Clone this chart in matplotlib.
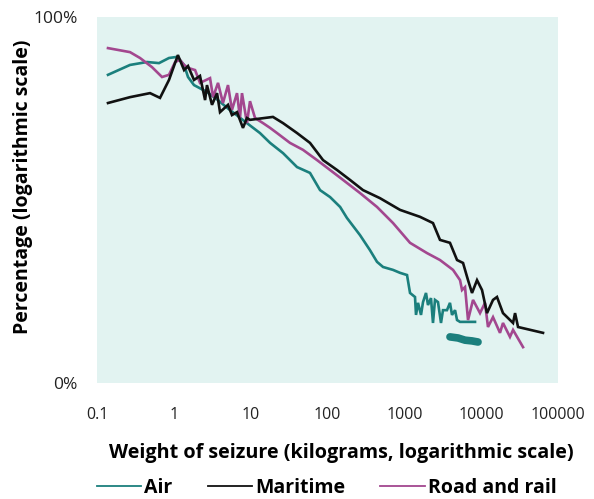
import matplotlib
matplotlib.use('Agg')
import matplotlib.pyplot as plt
from matplotlib.lines import Line2D

plt.rcParams['font.family'] = ['Open Sans', 'DejaVu Sans']

# Air
air_x = [0.139, 0.269, 0.448, 0.641, 0.865, 1.10, 1.36, 1.53, 1.83, 2.7, 3.65, 5.07, 7.26, 8.95,
         13.2, 17.9, 26.4, 40.1, 59.2, 80.0, 108, 146, 179, 265, 357, 441, 528, 713, 879, 1084,
         1186, 1377, 1419, 1507, 1648, 1750, 1914, 2032, 2223, 2360, 2506, 2742, 3000, 3184,
         3589, 3926, 4176, 4571, 4853, 5309, 8318]
air_y = [84.2, 86.9, 87.7, 87.4, 88.8, 89.1, 86.9, 83.6, 81.4, 79.5, 77.5, 75.0, 72.5, 71.0,
         68.3, 65.6, 62.8, 59.0, 57.4, 52.7, 50.8, 48.1, 45.1, 40.4, 36.3, 33.1, 31.7, 30.9, 30.1, 29.5,
         24.6, 23.5, 18.6, 21.9, 18.6, 22.1, 24.6, 21.3, 23.2, 16.4, 22.7, 22.1, 16.4, 19.9,
         19.9, 21.9, 18.6, 19.9, 17.2, 16.7, 16.7]
# dense cluster of small air seizures at the tail
air_tail_x = [3926, 5000, 6166, 7603, 9100]
air_tail_y = [12.6, 12.3, 11.7, 11.5, 11.2]

# Maritime
sea_x = [0.139, 0.269, 0.49, 0.661, 0.865, 1.13, 1.36, 1.53, 1.83, 2.19, 2.55, 2.70, 3.14, 3.65,
         3.99, 5.07, 5.71, 6.64, 7.94, 8.95, 9.80, 19.5, 26.4, 40.1, 59.2, 87.5, 133, 196, 290,
         482, 879, 1600, 2360, 2911, 3926, 4853, 5808, 6745, 7603, 8831, 10260, 11910, 14260,
         16070, 19230, 26000, 27610, 30200, 63830]
sea_y = [76.5, 78.1, 79.2, 77.9, 82.8, 89.6, 85.5, 86.6, 82.8, 83.9, 77.3, 81.4, 76.0, 79.2,
         74.0, 76.0, 73.2, 74.0, 69.7, 72.4, 71.9, 72.7, 71.0, 68.3, 65.6, 60.9, 58.2, 55.5, 52.7,
         50.5, 47.3, 45.4, 43.7, 39.1, 38.3, 33.6, 32.8, 28.1, 24.6, 28.1, 25.4, 19.1, 22.7,
         23.5, 19.1, 16.4, 19.1, 15.3, 13.7]

# Road and rail
road_x = [0.139, 0.269, 0.363, 0.52, 0.702, 0.865, 1.04, 1.20, 1.36, 1.53, 1.89, 2.19, 2.96, 3.24,
          3.76, 4.36, 5.07, 5.71, 6.64, 7.26, 7.71, 8.95, 9.80, 11.4, 14.5, 17.9, 22.0, 32.5,
          48.0, 73.1, 108, 159, 265, 441, 713, 1186, 1972, 2911, 4305, 5309, 5636, 6166, 6745,
          7834, 9661, 11220, 12270, 14260, 17580, 19230, 23710, 26000, 35080]
road_y = [91.5, 90.4, 88.8, 86.3, 83.6, 84.2, 87.7, 88.3, 86.9, 86.1, 85.5, 82.0, 83.3, 78.1,
          82.0, 76.5, 81.4, 74.6, 79.2, 72.4, 79.2, 71.0, 77.0, 72.4, 71.0, 69.7, 68.3, 65.6,
          63.7, 60.9, 58.2, 55.5, 51.9, 48.1, 43.7, 38.3, 35.5, 33.6, 30.9, 28.1, 25.4, 26.2, 17.2,
          22.7, 19.1, 21.9, 15.3, 18.0, 13.7, 16.4, 12.6, 14.5, 9.8]

x_ticks = [0.1, 1, 10, 100, 1000, 10000, 100000]
x_tick_labels = ['0.1', '1', '10', '100', '1000', '10000', '100000']
y_ticks = [0, 100]
y_tick_labels = ['0%', '100%']

C_AIR = '#1b7f7d'
C_SEA = '#111111'
C_ROAD = '#a3478f'
BG = '#e2f3f1'

fig = plt.figure(figsize=(5.94, 4.99), dpi=100)
ax = fig.add_axes([97 / 594, 116 / 499, 461 / 594, 366 / 499])
ax.set_facecolor(BG)
for s in ax.spines.values():
    s.set_visible(False)

ax.plot(air_x, air_y, color=C_AIR, lw=1.9, solid_joinstyle='miter')
ax.plot(air_tail_x, air_tail_y, color=C_AIR, lw=5.5, solid_capstyle='round')
ax.plot(road_x, road_y, color=C_ROAD, lw=1.9, solid_joinstyle='miter')
ax.plot(sea_x, sea_y, color=C_SEA, lw=1.9, solid_joinstyle='miter')

ax.set_xscale('log')
ax.set_xlim(0.1, 100000)
ax.set_ylim(0, 100)
ax.set_xticks(x_ticks)
ax.set_xticklabels(x_tick_labels)
ax.minorticks_off()
ax.set_yticks(y_ticks)
ax.set_yticklabels(y_tick_labels)
ax.tick_params(axis='x', length=0, pad=17, labelsize=11.5, colors='#222222')
ax.tick_params(axis='y', length=0, pad=14, labelsize=12.5, colors='#222222')

ax.set_xlabel('Weight of seizure (kilograms, logarithmic scale)', fontsize=14.2,
              fontweight='bold', va='center')
ax.xaxis.set_label_coords(0.529, -0.191)
ax.set_ylabel('Percentage (logarithmic scale)', fontsize=14, fontweight='bold', va='center')
ax.yaxis.set_label_coords(-0.16, 0.536)

handles = [Line2D([], [], color=C_AIR, lw=1.3),
           Line2D([], [], color=C_SEA, lw=1.3),
           Line2D([], [], color=C_ROAD, lw=1.3)]
fig.legend(handles, ['Air', 'Maritime', 'Road and rail'], loc='center',
           bbox_to_anchor=(0.55, 0.022), ncol=3, frameon=False, handlelength=2.3,
           handletextpad=0.15, columnspacing=1.8, prop={'weight': 'bold', 'size': 14})

fig.savefig('out.png', dpi=100)
